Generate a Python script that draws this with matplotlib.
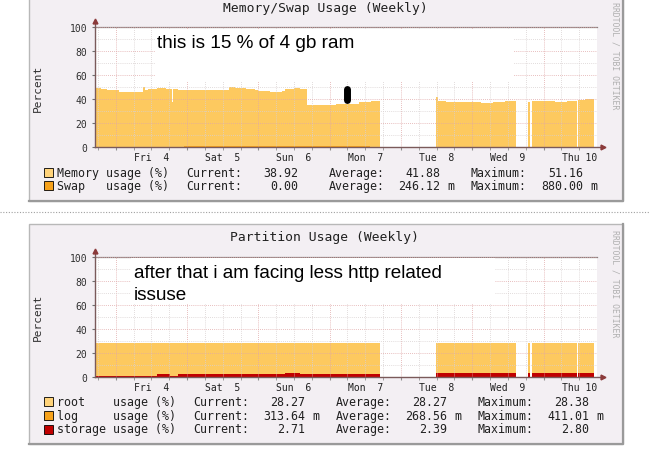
import numpy as np
import matplotlib
matplotlib.use('Agg')
import matplotlib.pyplot as plt
from matplotlib.patches import Rectangle
from matplotlib.lines import Line2D

# hours relative to Fri 4 00:00, each value holds until the next hour entry, nan = no data
mem_hours = [-7, -5, -3, -1, 1, 4, 7, 9, 10, 11, 14, 17, 18.8, 19.2, 21, 25, 29, 33, 36, 38, 40, 44, 47,
             48, 52, 56, 57, 60, 62, 64.4, 66, 70, 74, 78, 82, 86, 88.9, 107.7, 108.4, 111, 115, 119, 123,
             127, 131, 134.6, 138.7, 139.5, 140.2, 144, 148, 152, 155.2, 155.6, 158, 161]
mem_vals = [49.5, 49, 48, 47.5, 46.5, 46, 46.5, 50, 48, 49, 49.5, 49, 38, 49, 48, 47.5, 48, 47.5, 48, 50.5, 49.5, 49, 48,
            47, 46.5, 47, 49, 49.5, 49, 35.5, 35, 35.5, 36, 36.5, 37.5, 38.5, np.nan, 42, 38.5, 38, 37.5, 37.5, 37,
            37.5, 38.5, np.nan, 38, np.nan, 38.5, 38.5, 38, 38.5, np.nan, 39.5, 40, 38.92]
swap_hours = [-7, 23, 85.5, 161]
swap_vals = [0, 0.88, 0, 0]

root_hours = [-7, 88.9, 107.7, 134.6, 138.7, 139.5, 140.2, 155.2, 155.6, 161]
root_vals = [28.3, np.nan, 28.3, np.nan, 28.3, np.nan, 28.3, np.nan, 28.3, 28.27]
log_hours = [-7, 18.2, 20.9, 88.9, 107.7, 134.6, 138.7, 139.5, 140.2, 155.2, 155.6, 161]
log_vals = [0.2, 0.41, 0.3, np.nan, 0.3, np.nan, 0.3, np.nan, 0.3, np.nan, 0.31, 0.31]
stor_hours = [-7, 13.8, 18.2, 20.9, 57, 62, 88.9, 107.7, 134.6, 138.7, 139.5, 140.2, 155.2, 155.6, 161]
stor_vals = [0.8, 2.0, 0.3, 2.6, 3.2, 2.6, np.nan, 2.7, np.nan, 2.7, np.nan, 2.7, np.nan, 2.7, 2.71]

day_labels = ['Fri  4', 'Sat  5', 'Sun  6', 'Mon  7', 'Tue  8', 'Wed  9', 'Thu 10']
day_noon = [12, 36, 60, 84, 108, 132, 156]

W, H = 650, 464
def fx(x): return x / W
def fy(y): return 1 - y / H

mono = 'DejaVu Sans Mono'
panel_bg = '#f3eff3'
c_light = '#fdc95f'
c_orange = '#f7a21b'
c_red = '#c00000'

fig = plt.figure(figsize=(6.5, 4.64), dpi=100)
fig.patch.set_facecolor('white')

def panel(top, bottom):
    fig.patches.append(Rectangle((fx(29), fy(bottom)), fx(594), (bottom - top) / H, transform=fig.transFigure,
                                 facecolor=panel_bg, edgecolor='#b8b8b8', lw=1, zorder=-2))
    fig.lines.append(Line2D([fx(29), fx(623), fx(623)], [fy(bottom), fy(bottom), fy(top)],
                            transform=fig.transFigure, color='#9a9a9a', lw=1.6, zorder=-1))

def make_axes(y_top, y_bot):
    ax = fig.add_axes([fx(95), fy(y_bot), fx(597 - 95), (y_bot - y_top) / H])
    ax.set_facecolor('white')
    ax.set_xlim(-7, 162)
    ax.set_ylim(0, 100)
    ax.set_xticks(np.arange(0, 161, 24))
    ax.set_xticks(np.arange(-6, 162, 6), minor=True)
    ax.set_yticks(np.arange(0, 101, 20))
    ax.set_yticks(np.arange(10, 100, 20), minor=True)
    ax.set_xticklabels([])
    ax.tick_params(axis='x', which='both', length=2, color='#909090', direction='out')
    ax.tick_params(axis='y', which='major', length=2.5, color='#707070', labelsize=7, pad=3,
                   labelcolor='#303030')
    ax.tick_params(axis='y', which='minor', length=0)
    for lab in ax.get_yticklabels():
        lab.set_family(mono)
    ax.grid(which='minor', color='#d8d0d0', lw=0.6, ls=(0, (1, 1.5)))
    ax.grid(which='major', color='#e0a8a8', lw=0.6, ls=(0, (1, 1.5)))
    ax.set_axisbelow(False)
    for s in ['left', 'right', 'bottom']:
        ax.spines[s].set_visible(False)
    ax.spines['top'].set_color('#8a8080')
    ax.spines['top'].set_linewidth(0.9)
    ax.plot([0, 1.012], [0, 0], transform=ax.transAxes, color='#7a5a5a', lw=1, clip_on=False, zorder=6)
    ax.plot([0, 0], [0, 1.05], transform=ax.transAxes, color='#7a5a5a', lw=1, clip_on=False, zorder=6)
    ax.plot([1.012], [0], '>', ms=3.5, color='#8b3a3a', transform=ax.transAxes, clip_on=False, zorder=7)
    ax.plot([0], [1.05], '^', ms=3.5, color='#8b3a3a', transform=ax.transAxes, clip_on=False, zorder=7)
    for h, lab in zip(day_noon, day_labels):
        ax.annotate(lab, xy=(h, 0), xycoords=('data', 'axes fraction'), xytext=(0, -7.3),
                    textcoords='offset points', ha='center', va='center', family=mono, fontsize=7,
                    color='#202020')
    ax.set_ylabel('Percent', family=mono, fontsize=8, color='#303030', labelpad=19)
    return ax

def area(ax, hours, vals, color):
    # rrdtool style step area; nan segments stay empty
    xs = np.repeat(hours, 2)[1:-1]
    ys = np.repeat(vals[:-1], 2)
    ax.fill_between(xs, 0, ys, color=color, lw=0, zorder=1)

# ---- top panel: memory / swap
panel(-5, 202)
ax1 = make_axes(28.3, 148.3)
area(ax1, mem_hours, mem_vals, c_light)
area(ax1, swap_hours, swap_vals, c_orange)
fig.text(fx(325), fy(8.5), 'Memory/Swap Usage (Weekly)', family=mono, fontsize=9.4, ha='center', va='center',
         color='#202020')
fig.text(fx(615.5), fy(2), 'RRDTOOL / TOBI OETIKER', family=mono, fontsize=5.9, rotation=-90,
         ha='center', va='top', color='#b0b0b0')

# ---- bottom panel: partitions
panel(225, 445)
ax2 = make_axes(257.7, 377.7)
area(ax2, root_hours, root_vals, c_light)
area(ax2, log_hours, log_vals, c_orange)
area(ax2, stor_hours, stor_vals, c_red)
fig.text(fx(325), fy(238), 'Partition Usage (Weekly)', family=mono, fontsize=9.4, ha='center', va='center',
         color='#202020')
fig.text(fx(615.5), fy(230), 'RRDTOOL / TOBI OETIKER', family=mono, fontsize=5.9, rotation=-90,
         ha='center', va='top', color='#b0b0b0')

# separator
fig.lines.append(Line2D([0, 1], [fy(213), fy(213)], transform=fig.transFigure, color='#a0a0a0', lw=0.8,
                        ls=(0, (1, 1.5))))

# legends
def legend_row(y, color, name, cur, avg, mx, xs):
    lx, cx, cv, ax_, av, mxx, mv = xs
    fig.patches.append(Rectangle((fx(43.5), fy(y + 4.5)), fx(9), 9 / H, transform=fig.transFigure,
                                 facecolor=color, edgecolor='black', lw=0.6, zorder=3))
    kw = dict(family=mono, fontsize=8.4, va='center', color='#202020')
    fig.text(fx(lx), fy(y), name, ha='left', **kw)
    fig.text(fx(cx), fy(y), 'Current:', ha='left', **kw)
    fig.text(fx(ax_), fy(y), 'Average:', ha='left', **kw)
    fig.text(fx(mxx), fy(y), 'Maximum:', ha='left', **kw)
    for val, right in [(cur, cv), (avg, av), (mx, mv)]:
        num, unit = val
        fig.text(fx(right), fy(y), num, ha='right', **kw)
        if unit:
            fig.text(fx(right + 7), fy(y), unit, ha='left', **kw)

top_cols = (57, 186.5, 298.5, 329, 440.5, 470.5, 583)
legend_row(173.3, '#ffd37a', 'Memory usage (%)', ('38.92', ''), ('41.88', ''), ('51.16', ''), top_cols)
legend_row(186.7, c_orange, 'Swap   usage (%)', ('0.00', ''), ('246.12', 'm'), ('880.00', 'm'), top_cols)

bot_cols = (57, 193, 305.5, 335.5, 447, 477.5, 589)
legend_row(402.3, '#ffd37a', 'root    usage (%)', ('28.27', ''), ('28.27', ''), ('28.38', ''), bot_cols)
legend_row(416.3, c_orange, 'log     usage (%)', ('313.64', 'm'), ('268.56', 'm'), ('411.01', 'm'), bot_cols)
legend_row(430.0, c_red, 'storage usage (%)', ('2.71', ''), ('2.39', ''), ('2.80', ''), bot_cols)

# hand-written notes on white boxes
fig.patches.append(Rectangle((fx(155), fy(83)), fx(513 - 155), (83 - 29.5) / H, transform=fig.transFigure,
                             facecolor='white', edgecolor='none', zorder=4))
fig.text(fx(157), fy(43.5), 'this is 15 % of 4 gb ram', family='Liberation Sans', fontsize=13.7,
         ha='left', va='center', color='black', zorder=5)
fig.lines.append(Line2D([fx(347), fx(347)], [fy(90), fy(101)], transform=fig.transFigure, color='black',
                        lw=5, solid_capstyle='round', zorder=5))
fig.patches.append(Rectangle((fx(131), fy(305)), fx(495 - 131), (305 - 259) / H, transform=fig.transFigure,
                             facecolor='white', edgecolor='none', zorder=4))
fig.text(fx(134), fy(273.3), 'after that i am facing less http related', family='Liberation Sans',
         fontsize=13.6, ha='left', va='center', color='black', zorder=5)
fig.text(fx(134), fy(295), 'issuse', family='Liberation Sans', fontsize=13.6, ha='left', va='center',
         color='black', zorder=5)

fig.savefig('out.png', dpi=100)
